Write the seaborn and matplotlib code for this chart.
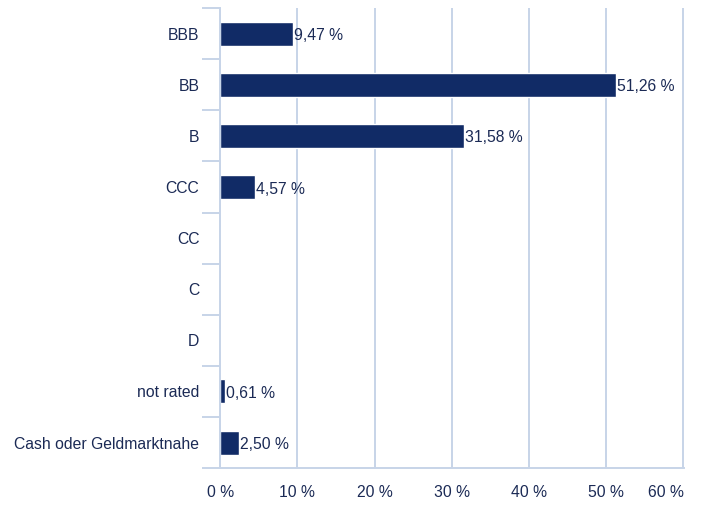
import numpy as np
import pandas as pd
import seaborn as sns
import matplotlib.pyplot as plt
from matplotlib.ticker import FixedLocator

ratings = ["BBB", "BB", "B", "CCC", "CC", "C", "D", "not rated", "Cash oder Geldmarktnahe"]
shares = [9.47, 51.26, 31.58, 4.57, 0.0, 0.0, 0.0, 0.61, 2.50]
labels = ["9,47 %", "51,26 %", "31,58 %", "4,57 %", "", "", "", "0,61 %", "2,50 %"]
xticks = [0, 10, 20, 30, 40, 50, 60]

navy = "#112b66"
text_col = "#1b2a55"
grid_col = "#c7d4e8"
fs = 11.3

sns.set_theme(style="white")
plt.rcParams["font.family"] = ["Liberation Sans", "DejaVu Sans"]

df = pd.DataFrame({"rating": ratings, "share": shares})

fig = plt.figure(figsize=(7.01, 5.05), dpi=100)
ax = fig.add_axes([0.314, 0.073, 0.662, 0.911])
sns.barplot(data=df, x="share", y="rating", color=navy, saturation=1, width=0.47, ax=ax)

for i, (v, lab) in enumerate(zip(shares, labels)):
    if lab:
        ax.text(v + 0.1, i + 0.04, lab, va="center", ha="left", fontsize=fs, color=text_col)

ax.set_xlim(0, 60.1)
ax.set_ylim(8.5, -0.5)
ax.set_xticks(xticks)
ax.set_xticklabels([f"{t} %" for t in xticks])
ax.get_xticklabels()[-1].set_ha("right")
ax.xaxis.grid(True, color=grid_col, linewidth=1.4)
ax.set_axisbelow(True)
ax.set_xlabel("")
ax.set_ylabel("")

ax.yaxis.set_minor_locator(FixedLocator(np.arange(-0.5, 9, 1)))
ax.tick_params(axis="y", which="minor", length=13, width=1.4, color=grid_col, left=True)
ax.tick_params(axis="y", which="major", length=0, pad=15, labelsize=fs, labelcolor=text_col)
ax.tick_params(axis="x", length=0, pad=12, labelsize=fs, labelcolor=text_col)
for t in ax.get_yticklabels():
    t.set_va("center_baseline")

for s in ["top", "right"]:
    ax.spines[s].set_visible(False)
for s in ["left", "bottom"]:
    ax.spines[s].set_color(grid_col)
    ax.spines[s].set_linewidth(1.4)

fig.savefig("out.png", dpi=100)
